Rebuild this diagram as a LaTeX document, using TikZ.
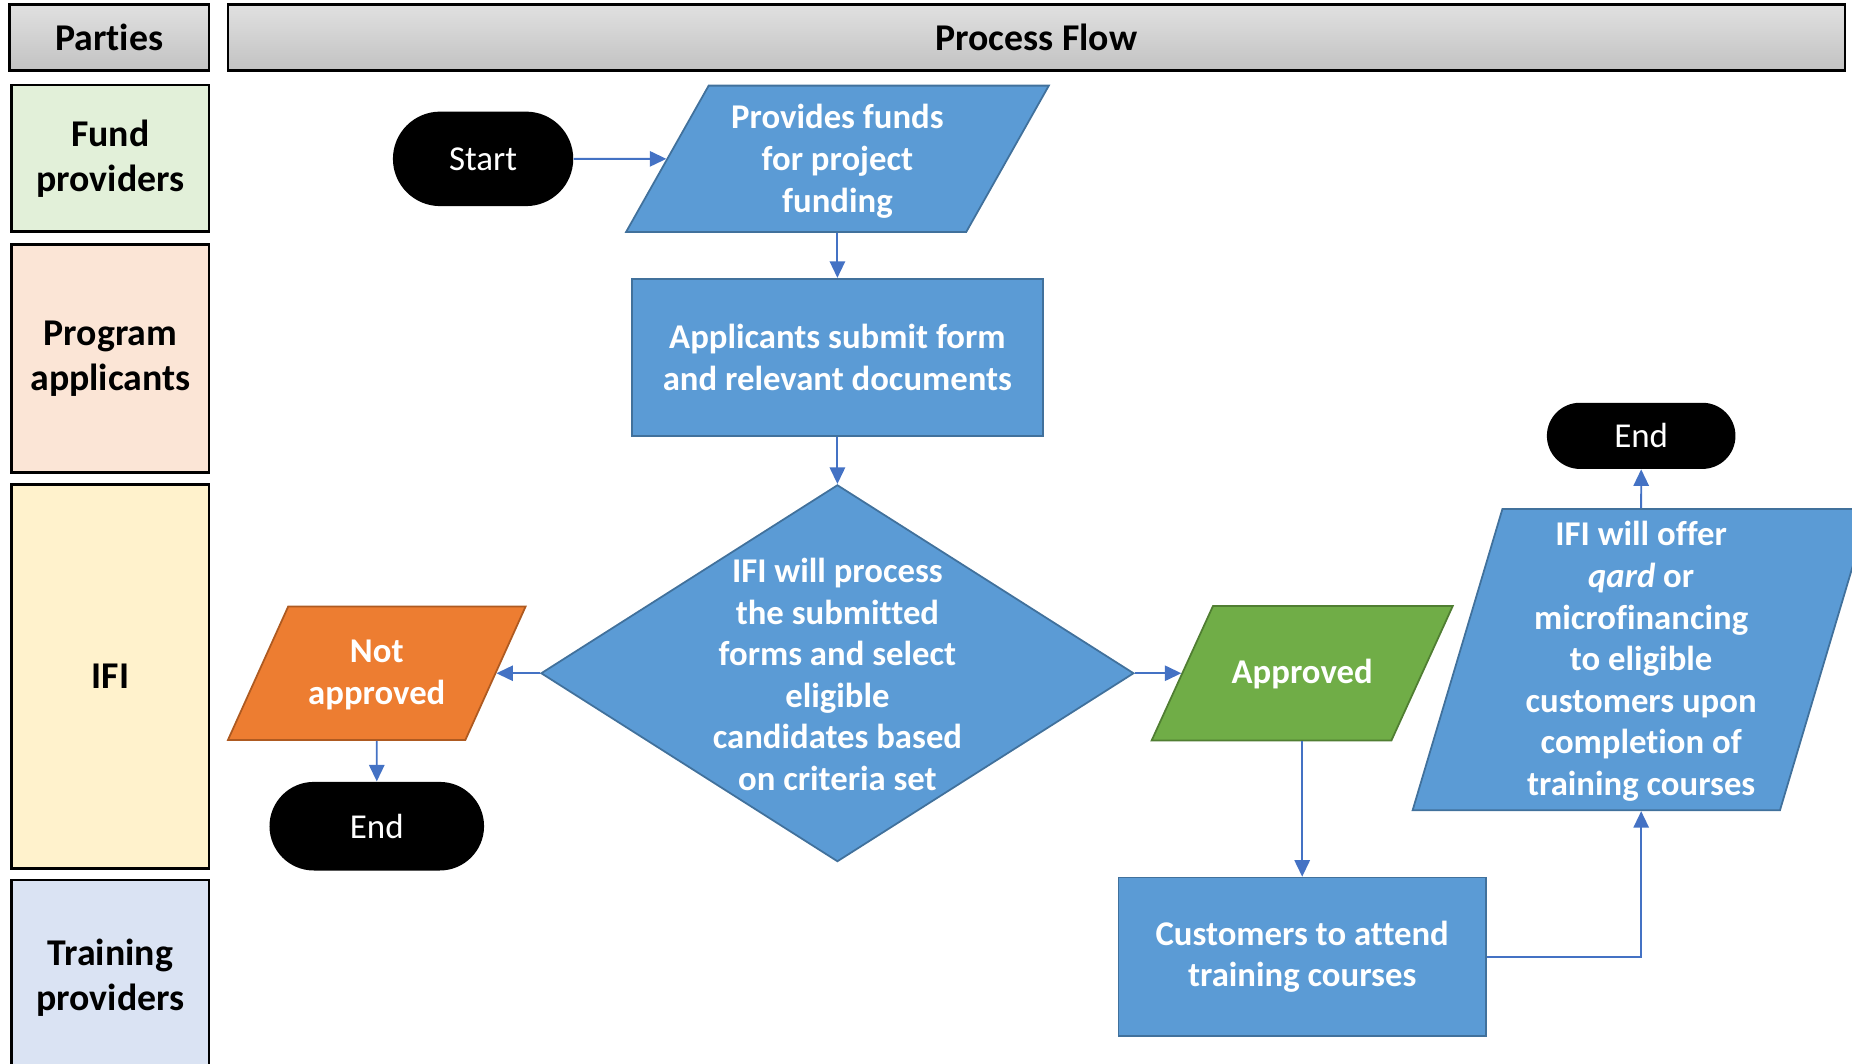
\documentclass[tikz,border=0pt]{standalone}
\usepackage{fontspec}
\setmainfont{Carlito}[Ligatures=NoCommon]
\usetikzlibrary{arrows.meta,shapes.geometric,shapes.misc,positioning}

\definecolor{flowblue}{HTML}{5B9BD5}
\definecolor{flowblueline}{HTML}{41719C}
\definecolor{floworange}{HTML}{ED7D31}
\definecolor{floworangeline}{HTML}{AE5A21}
\definecolor{flowgreen}{HTML}{70AD47}
\definecolor{flowgreenline}{HTML}{507E32}
\definecolor{arrowblue}{HTML}{4472C4}
\definecolor{lanegreen}{HTML}{E2F0D9}
\definecolor{lanepeach}{HTML}{FBE5D6}
\definecolor{laneyellow}{HTML}{FFF2CC}
\definecolor{laneblue}{HTML}{DAE3F3}

\tikzset{
    lane/.style={draw=black, line width=1.2pt, minimum width=83.5pt, align=center,
        font=\bfseries\fontsize{16}{19}\selectfont},
    header/.style={draw=black, line width=1.2pt, top color=black!12, bottom color=black!24,
        minimum height=28pt, font=\bfseries\fontsize{16}{19}\selectfont},
    terminal/.style={rounded rectangle, fill=black, text=white, font=\fontsize{14.8}{17.5}\selectfont},
    flowtext/.style={text=white, align=center, font=\bfseries\fontsize{14.7}{17.6}\selectfont},
    process/.style={flowtext, rectangle, draw=flowblueline, line width=0.75pt, fill=flowblue},
    decision/.style={diamond, draw=flowblueline, line width=0.75pt, fill=flowblue, inner sep=0pt},
    io/.style={trapezium, line width=0.75pt}
}

\begin{document}
\begin{tikzpicture}[x=0.5pt, y=0.5pt]
    \tikzset{flow/.style={draw=arrowblue, line width=0.8pt, -{Triangle[length=7pt,width=6.5pt]}}}
    \useasboundingbox (0,0) rectangle (1568,-900);
    \clip (0,0) rectangle (1568,-900);

    \node[header, minimum width=84.5pt] (parties) at (92.5,-32) {Parties};
    \node[header, minimum width=684.5pt] (flowhead) at (877.5,-32) {Process Flow};
    \node[lane, fill=lanegreen, minimum height=62pt] (fund) at (93.5,-134) {Fund\\providers};
    \node[lane, fill=lanepeach, minimum height=96.5pt] (applicant) at (93.5,-303.5) {Program\\applicants};
    \node[lane, fill=laneyellow, minimum height=162.5pt] (ifi) at (93.5,-572.5) {IFI};
    \node[lane, fill=laneblue, minimum height=82.5pt] (trainer) at (93.5,-827.5) {Training\\providers};

    \node[terminal, minimum width=83pt, minimum height=40pt] (start) at (409,-134.5) {Start};
    \node[io, fill=flowblue, draw=flowblueline, trapezium left angle=60.56, trapezium right angle=119.44,
        inner xsep=54.5pt, inner ysep=31pt] (funds) at (709,-134.5) {};
    \node[flowtext] (fundstext) at (709,-136.5) {Provides funds\\for project\\funding};
    \node[process, minimum width=174pt, minimum height=66.5pt] (submit) at (709,-302.5)
        {Applicants submit form\\and relevant documents};
    \node[decision, minimum width=251pt, minimum height=159.5pt] (check) at (709,-570) {};
    \node[flowtext] (checktext) at (709,-571) {IFI will process\\the submitted\\forms and select\\eligible\\candidates based\\on criteria set};
    \node[io, fill=floworange, draw=floworangeline, trapezium left angle=65.71, trapezium right angle=114.29,
        inner xsep=37.5pt, inner ysep=28.25pt] (reject) at (319,-570) {};
    \node[flowtext] (rejecttext) at (319,-571.5) {Not\\approved};
    \node[terminal, minimum width=97.5pt, minimum height=37.5pt] (endleft) at (319,-699.5) {End};
    \node[io, fill=flowgreen, draw=flowgreenline, trapezium left angle=65.48, trapezium right angle=114.52,
        inner xsep=37.75pt, inner ysep=28.5pt] (accept) at (1102.5,-570) {};
    \node[flowtext] (accepttext) at (1102.5,-571) {Approved};
    \node[process, minimum width=155.5pt, minimum height=67pt] (course) at (1102.5,-810)
        {Customers to attend\\training courses};
    \node[io, fill=flowblue, draw=flowblueline, trapezium left angle=73.4, trapezium right angle=106.6,
        inner xsep=58.75pt, inner ysep=63.75pt] (offer) at (1389.5,-558.5) {};
    \node[flowtext] (offertext) at (1389.5,-560) {IFI will offer\\\textit{qard} or\\microfinancing\\to eligible\\customers upon\\completion of\\training courses};
    \node[terminal, minimum width=86.5pt, minimum height=28pt] (endright) at (1389.5,-369) {End};

    \draw[flow] (start) -- (funds);
    \draw[flow] (funds) -- (submit);
    \draw[flow] (submit) -- (check);
    \draw[flow] (check) -- (reject);
    \draw[flow] (reject) -- (endleft);
    \draw[flow] (check) -- (accept);
    \draw[flow] (accept) -- (course);
    \draw[flow] (course.east) -| (offer.south);
    \draw[flow] (offer) -- (endright);
\end{tikzpicture}
\end{document}
